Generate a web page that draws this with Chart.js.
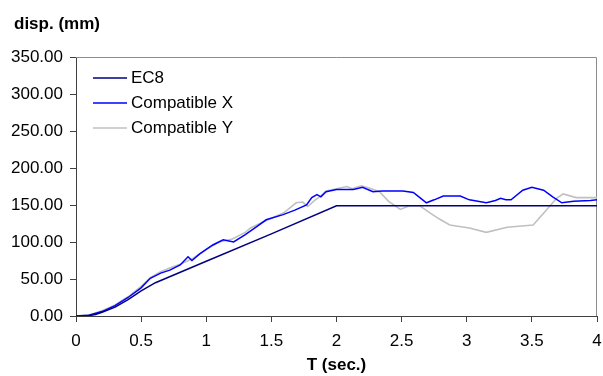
<!DOCTYPE html>
<html>
<head>
<meta charset="utf-8">
<script src="https://cdn.jsdelivr.net/npm/chart.js@4.4.1/dist/chart.umd.min.js"></script>
<style>
  html, body { margin: 0; padding: 0; background: #fff; }
  #wrap { position: relative; width: 603px; height: 376px; }
</style>
</head>
<body>
<div id="wrap"><canvas id="chart" width="603" height="376"></canvas></div>
<script>
// series names and colours
const seriesNames = ['EC8', 'Compatible X', 'Compatible Y'];
const seriesColors = ['#000080', '#0000ff', '#c0c0c0'];

// EC8 design spectrum
const tEC8 = [0, 0.08, 0.15, 0.2, 0.3, 0.4, 0.5, 0.61, 1.0, 1.5, 2.0, 4.0];
const dEC8 = [0, 0, 2, 5, 12, 22, 34, 45, 74, 111, 149, 149];

// Compatible X
const tX = [0, 0.1, 0.2, 0.3, 0.4, 0.5, 0.57, 0.65, 0.72, 0.8, 0.86, 0.89, 0.95, 1.05, 1.13, 1.21, 1.3, 1.39,
  1.46, 1.59, 1.68, 1.77, 1.81, 1.85, 1.88, 1.92, 2.0, 2.13, 2.2, 2.28, 2.35, 2.51, 2.59, 2.64, 2.69, 2.75,
  2.82, 2.95, 3.02, 3.15, 3.22, 3.26, 3.3, 3.34, 3.43, 3.5, 3.59, 3.66, 3.73, 3.82, 3.95, 4.0];
const dX = [0, 1, 6, 14, 25, 38, 51, 58, 62, 69, 80, 75, 84, 96, 103, 100, 110, 121,
  130, 137, 143, 150, 160, 164, 161, 168, 171, 171, 174, 168, 169, 169, 167, 160, 153, 157,
  162, 162, 157, 153, 156, 159, 157, 157, 170, 174, 170, 161, 153, 155, 156, 157];

// Compatible Y
const tY = [0, 0.1, 0.2, 0.3, 0.4, 0.5, 0.57, 0.65, 0.72, 0.8, 0.9, 1.0, 1.1, 1.2, 1.3, 1.34, 1.4, 1.5,
  1.6, 1.69, 1.74, 1.78, 1.83, 1.87, 1.92, 2.0, 2.08, 2.12, 2.19, 2.25, 2.33, 2.4, 2.49, 2.56, 2.64,
  2.72, 2.79, 2.87, 3.02, 3.15, 3.31, 3.51, 3.61, 3.69, 3.74, 3.84, 4.0];
const dY = [0, 1.5, 7, 15, 26, 40, 52, 60, 65, 70, 78, 90, 100, 104, 113, 119, 124, 132,
  140, 153, 154, 148, 156, 161, 169, 172, 175, 172, 176, 173, 168, 155, 144, 149, 149,
  139, 131, 123, 119, 113, 120, 123, 143, 159, 165, 160, 160];

// tick labels
const xTicks = ['0', '0.5', '1', '1.5', '2', '2.5', '3', '3.5', '4'];
const yTicks = ['0.00', '50.00', '100.00', '150.00', '200.00', '250.00', '300.00', '350.00'];

const toPoints = (ts, ds) => ts.map((t, i) => ({ x: t, y: ds[i] }));
const allT = [tEC8, tX, tY];
const allD = [dEC8, dX, dY];

// plot-area frame, y-label and legend drawn on the canvas
const extras = {
    id: 'extras',
    beforeDatasetsDraw(chart) {
        const { ctx, chartArea: a } = chart;
        ctx.save();
        ctx.strokeStyle = '#8c8c8c';
        ctx.lineWidth = 1;
        ctx.beginPath();
        ctx.moveTo(a.left, a.top + 0.5);
        ctx.lineTo(a.right - 0.5, a.top + 0.5);
        ctx.lineTo(a.right - 0.5, a.bottom);
        ctx.stroke();
        ctx.restore();
    },
    afterDraw(chart) {
        const ctx = chart.ctx;
        ctx.save();
        ctx.fillStyle = '#000';
        ctx.font = 'bold 17px "Liberation Sans", Arial, sans-serif';
        ctx.textBaseline = 'alphabetic';
        ctx.fillText('disp. (mm)', 14, 29);

        // legend
        ctx.font = '17px "Liberation Sans", Arial, sans-serif';
        ctx.textBaseline = 'middle';
        chart.data.datasets.forEach((ds, i) => {
            const y = 78 + i * 25;
            ctx.strokeStyle = ds.borderColor;
            ctx.lineWidth = 1.5;
            ctx.beginPath();
            ctx.moveTo(93, y);
            ctx.lineTo(127, y);
            ctx.stroke();
            ctx.fillText(ds.label, 131, y);
        });
        ctx.restore();
    }
};

new Chart(document.getElementById('chart'), {
    type: 'line',
    data: {
        datasets: seriesNames.map((name, i) => ({
            label: name,
            data: toPoints(allT[i], allD[i]),
            borderColor: seriesColors[i],
            borderWidth: i === 2 ? 1.6 : 1.5,
            pointRadius: 0,
            tension: 0,
            fill: false
        }))
    },
    options: {
        responsive: false,
        animation: false,
        layout: { padding: { top: 57, right: 0, left: 0, bottom: 0 } },
        plugins: {
            legend: { display: false },
            tooltip: { enabled: false }
        },
        scales: {
            x: {
                type: 'linear',
                min: 0,
                max: 4,
                afterFit(scale) {
                    scale.height = 60;
                    scale.paddingRight = 6;
                },
                ticks: {
                    stepSize: 0.5,
                    maxRotation: 0,
                    padding: 9,
                    color: '#000',
                    font: { family: '"Liberation Sans", Arial, sans-serif', size: 17 },
                    callback: (v) => xTicks[Math.round(v * 2)]
                },
                grid: { drawOnChartArea: false, tickLength: 6, color: '#404040' },
                border: { color: '#404040', width: 1 },
                title: {
                    display: true,
                    text: 'T (sec.)',
                    color: '#000',
                    padding: { top: 0, bottom: 0 },
                    font: { family: '"Liberation Sans", Arial, sans-serif', size: 17, weight: 'bold' }
                }
            },
            y: {
                min: 0,
                max: 350,
                afterFit(scale) { scale.width = 76; },
                ticks: {
                    stepSize: 50,
                    padding: 7,
                    color: '#000',
                    font: { family: '"Liberation Sans", Arial, sans-serif', size: 17 },
                    callback: (v) => yTicks[Math.round(v / 50)]
                },
                grid: { drawOnChartArea: false, tickLength: 6, color: '#404040' },
                border: { color: '#404040', width: 1 }
            }
        }
    },
    plugins: [extras]
});
</script>
</body>
</html>
